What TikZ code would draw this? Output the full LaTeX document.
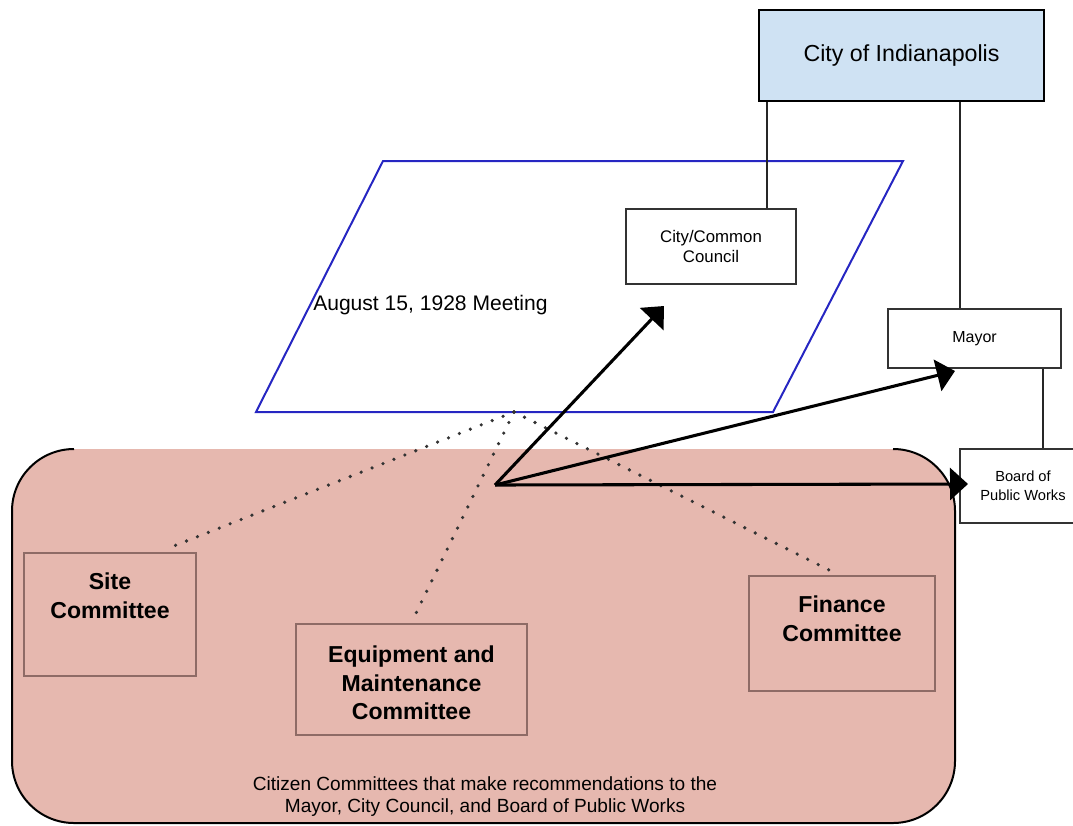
\documentclass[tikz,border=0pt]{standalone}
\usepackage{fontspec}
\setmainfont{Liberation Sans}
\usetikzlibrary{arrows.meta,positioning}

\definecolor{cityblue}{HTML}{CFE2F3}
\definecolor{pinkfill}{HTML}{E6B8AF}
\definecolor{meetblue}{HTML}{2626C2}
\definecolor{cmtedge}{HTML}{8E6B66}

\tikzset{
  office/.style={draw=black!80, line width=1.1pt, fill=white, inner sep=0pt},
  committee/.style={draw=cmtedge, line width=0.8pt, inner sep=0pt},
  cmttext/.style={inner sep=0pt, align=center, font=\fontsize{17.3}{21.5}\selectfont\bfseries},
  link/.style={line width=1.5pt, black!85},
  push/.style={line width=2.3pt, -{Triangle[length=13.5pt,width=24pt]}},
  dots/.style={line width=2.7pt, line cap=round, dash pattern=on 0pt off 8.8pt, black!80}
}

\begin{document}
\begin{tikzpicture}[x=0.75pt,y=-0.75pt]
    \useasboundingbox (0,0) rectangle (1073,825);
    \clip (0,0) rectangle (1073,825);

    % citizen committees area
    \fill[pinkfill, rounded corners=46.5pt] (12,449) rectangle (955,823);
    \draw[line width=1.5pt, rounded corners=46.5pt]
        (74,449) -- (12,449) -- (12,823) -- (955,823) -- (955,449) -- (893,449);

    % the meeting
    \draw[meetblue, line width=1.5pt] (383,161) -- (903,161) -- (773,412) -- (256,412) -- cycle;
    \node[anchor=west, inner sep=0pt, font=\fontsize{15.8}{18}\selectfont] (meettext) at (313,305) {August 15, 1928 Meeting};
    \coordinate (meet) at (514,412);
    \coordinate (hub) at (495,485);

    % city offices
    \node[office, line width=1.8pt, draw=black, fill=cityblue, minimum width=213.75pt, minimum height=68.25pt,
          font=\fontsize{17.4}{20}\selectfont] (city) at (901.5,55.5) {City of Indianapolis};
    \node[office, minimum width=127.5pt, minimum height=56.25pt, align=center,
          font=\fontsize{12.6}{15}\selectfont] (council) at (711,246.5) {City/Common\\Council};
    \node[office, minimum width=129.75pt, minimum height=44.25pt,
          font=\fontsize{12}{14}\selectfont] (mayor) at (974.5,338.5) {Mayor};
    \node[office, minimum width=94.5pt, minimum height=55.5pt, align=center,
          font=\fontsize{11}{14.2}\selectfont] (board) at (1023,486) {Board of\\Public Works};

    \draw[link] ([xshift=42pt]council.north) -- ([xshift=42pt]council.north |- city.south);
    \draw[link] ([xshift=-10.9pt]mayor.north) -- ([xshift=-10.9pt]mayor.north |- city.south);
    \draw[link] ([xshift=51.4pt]mayor.south) -- ([xshift=51.4pt]mayor.south |- board.north);

    % committees
    \node[committee, minimum width=129pt, minimum height=92.25pt] (site) at (110,614.5) {};
    \node[committee, minimum width=173.25pt, minimum height=83.25pt] (equip) at (411.5,679.5) {};
    \node[committee, minimum width=139.5pt, minimum height=86.25pt] (finance) at (842,633.5) {};
    \node[cmttext, below=15pt of site.north] (sitetext) {Site\\Committee};
    \node[cmttext, below=16.5pt of equip.north] (equiptext) {Equipment and\\Maintenance\\Committee};
    \node[cmttext, below=15pt of finance.north] (financetext) {Finance\\Committee};

    \node[align=center, inner sep=0pt, font=\fontsize{14.3}{16.5}\selectfont] (citizens) at (485,797)
        {Citizen Committees that make recommendations to the\\Mayor, City Council, and Board of Public Works};

    % dotted ties to the meeting
    \draw[dots] (meet) -- ([shift={(60,-5)}]site.north);
    \draw[dots] (meet) -- ([shift={(0.5,-2)}]equip.north);
    \draw[dots] (meet) -- ([shift={(-6,-2)}]finance.north);

    % recommendations
    \coordinate (tocouncil) at (664,306);
    \coordinate (tomayor) at (955,371);
    \coordinate (toboard) at (968,484);
    \draw[push] (hub) -- (tocouncil);
    \draw[push] (hub) -- (tomayor);
    \draw[push] (hub) -- (toboard);
\end{tikzpicture}
\end{document}
